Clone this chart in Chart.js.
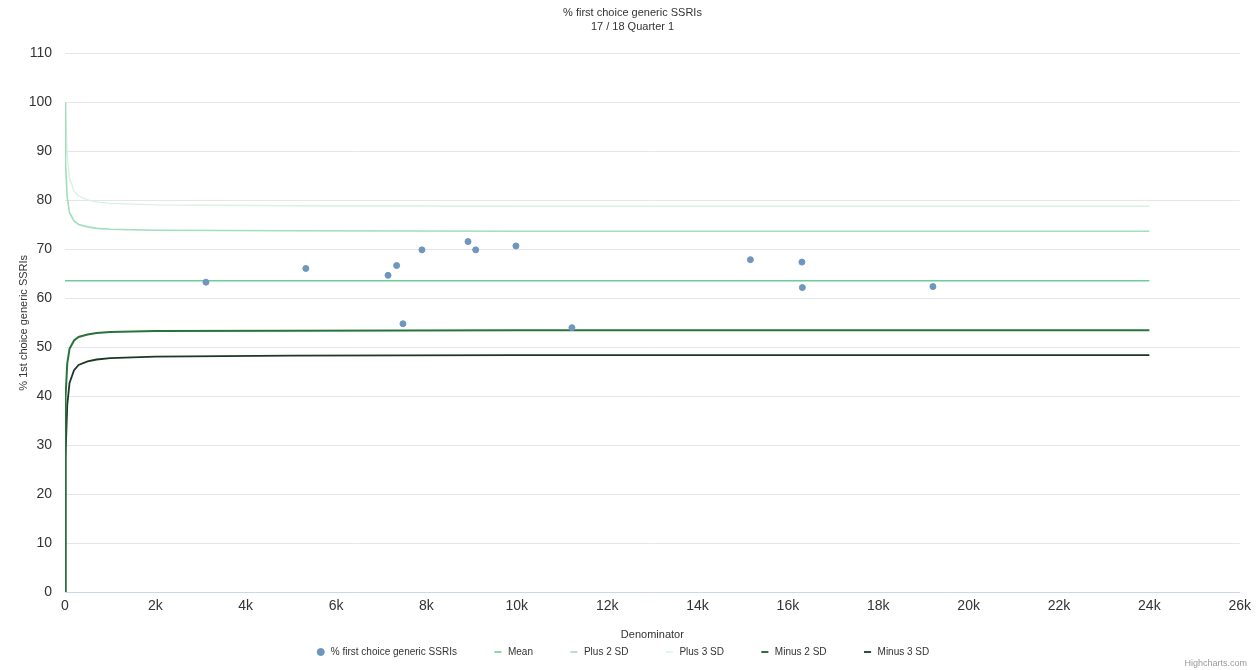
<!DOCTYPE html>
<html>
<head>
<meta charset="utf-8">
<title>% first choice generic SSRIs</title>
<script src="https://cdn.jsdelivr.net/npm/chart.js@4/dist/chart.umd.min.js"></script>
<style>
    html, body { margin: 0; padding: 0; background: #fff; }
    #wrap { width: 1257px; height: 670px; position: relative; }
</style>
</head>
<body>
<div id="wrap"><canvas id="funnel-chart"></canvas></div>
<script>
// Practices: denominator vs % first choice generic SSRIs
const denominators = [3120, 5330, 7150, 7340, 7900, 8920, 9090, 9980, 7480, 11220, 15170, 16310, 16320, 19210];
const percentages = [63.3, 66.1, 64.7, 66.7, 69.9, 71.6, 69.9, 70.7, 54.8, 54.0, 67.9, 67.4, 62.2, 62.4];

// Control limits
const limitN = [1, 5, 10, 20, 50, 100, 200, 300, 500, 700, 1000, 2000, 5000, 10000, 24000];
const plus3Sd = [100, 100, 100, 99.3, 89.0, 84.5, 81.9, 80.9, 80.1, 79.7, 79.4, 79.1, 78.9, 78.8, 78.8];
const plus2Sd = [100, 100, 95.6, 87.4, 80.5, 77.5, 75.8, 75.1, 74.6, 74.3, 74.1, 73.9, 73.8, 73.7, 73.7];
const minus2Sd = [0, 19.4, 31.6, 39.8, 46.7, 49.7, 51.4, 52.1, 52.6, 52.9, 53.1, 53.3, 53.4, 53.5, 53.5];
const minus3Sd = [0, 0, 15.6, 27.9, 38.2, 42.7, 45.3, 46.4, 47.1, 47.5, 47.8, 48.1, 48.3, 48.4, 48.4];
const meanN = [0, 24000];
const meanValue = [63.6, 63.6];

const yTicks = [0, 10, 20, 30, 40, 50, 60, 70, 80, 90, 100, 110];
const xTicks = [0, 2000, 4000, 6000, 8000, 10000, 12000, 14000, 16000, 18000, 20000, 22000, 24000, 26000];

const pts = (xs, ys) => xs.map((x, i) => ({ x: x, y: ys[i] }));

function limitLine(label, xs, ys, color, width) {
    return {
        label: label,
        data: pts(xs, ys),
        showLine: true,
        borderColor: color,
        backgroundColor: color,
        borderWidth: width,
        pointRadius: 0,
        pointHoverRadius: 0,
        pointStyle: 'line',
        tension: 0
    };
}

// credit text bottom right
const creditPlugin = {
    id: 'credit',
    afterDraw(chart) {
        const ctx = chart.ctx;
        ctx.save();
        ctx.font = '9px "Liberation Sans", Arial, sans-serif';
        ctx.fillStyle = '#999';
        ctx.textAlign = 'right';
        ctx.textBaseline = 'bottom';
        ctx.fillText('Highcharts.com', 1247, 668);
        ctx.restore();
    }
};

Chart.defaults.font.family = '"Liberation Sans", Arial, sans-serif';

new Chart(document.getElementById('funnel-chart').getContext('2d'), {
    type: 'scatter',
    data: {
        datasets: [
            {
                label: '% first choice generic SSRIs',
                data: pts(denominators, percentages),
                backgroundColor: 'rgb(110,150,190)',
                borderColor: 'rgb(110,150,190)',
                pointRadius: 3,
                pointStyle: 'circle'
            },
            limitLine('Mean', meanN, meanValue, 'rgb(110,205,150)', 1.6),
            limitLine('Plus 2 SD', limitN, plus2Sd, 'rgb(160,222,190)', 1.6),
            limitLine('Plus 3 SD', limitN, plus3Sd, 'rgb(214,242,225)', 1.4),
            limitLine('Minus 2 SD', limitN, minus2Sd, 'rgb(40,115,60)', 2),
            limitLine('Minus 3 SD', limitN, minus3Sd, 'rgb(28,55,36)', 1.8)
        ]
    },
    options: {
        responsive: true,
        maintainAspectRatio: false,
        animation: false,
        layout: { padding: { left: 8, right: 0, top: 0, bottom: 3 } },
        scales: {
            x: {
                type: 'linear',
                min: 0,
                max: 26000,
                afterBuildTicks: (scale) => { scale.ticks = xTicks.map(v => ({ value: v })); },
                afterFit: (scale) => { scale.height = 39; },
                ticks: {
                    color: '#333',
                    font: { size: 14 },
                    padding: 6,
                    callback: v => v === 0 ? '0' : (v / 1000) + 'k'
                },
                grid: { display: false, drawTicks: false },
                border: { display: true, color: '#ccd6eb' },
                title: { display: true, text: 'Denominator', color: '#333', font: { size: 11 }, padding: { top: 0, bottom: -11 } }
            },
            y: {
                min: 0,
                max: 110,
                afterBuildTicks: (scale) => { scale.ticks = yTicks.map(v => ({ value: v })); },
                afterFit: (scale) => { scale.width = 57; },
                ticks: { color: '#333', font: { size: 14 }, padding: 13 },
                grid: { color: '#e6e6e6', drawTicks: false },
                border: { display: false },
                title: { display: true, text: '% 1st choice generic SSRIs', color: '#333', font: { size: 11 }, padding: { top: 9, bottom: 0 } }
            }
        },
        plugins: {
            title: {
                display: true,
                text: ['% first choice generic SSRIs', '17 / 18 Quarter 1'],
                color: '#333',
                font: { size: 11, weight: 'normal', lineHeight: 1.3 },
                padding: { top: 6, bottom: 19 }
            },
            legend: {
                position: 'bottom',
                labels: {
                    color: '#333',
                    font: { size: 10 },
                    usePointStyle: true,
                    boxWidth: 14,
                    boxHeight: 5,
                    padding: 16,
                    // widen the gap between legend entries
                    generateLabels: (chart) => Chart.defaults.plugins.legend.labels.generateLabels(chart)
                        .map(item => Object.assign(item, { text: item.text + '\u2003\u2003' }))
                }
            },
            tooltip: { enabled: false }
        }
    },
    plugins: [creditPlugin]
});
</script>
</body>
</html>
